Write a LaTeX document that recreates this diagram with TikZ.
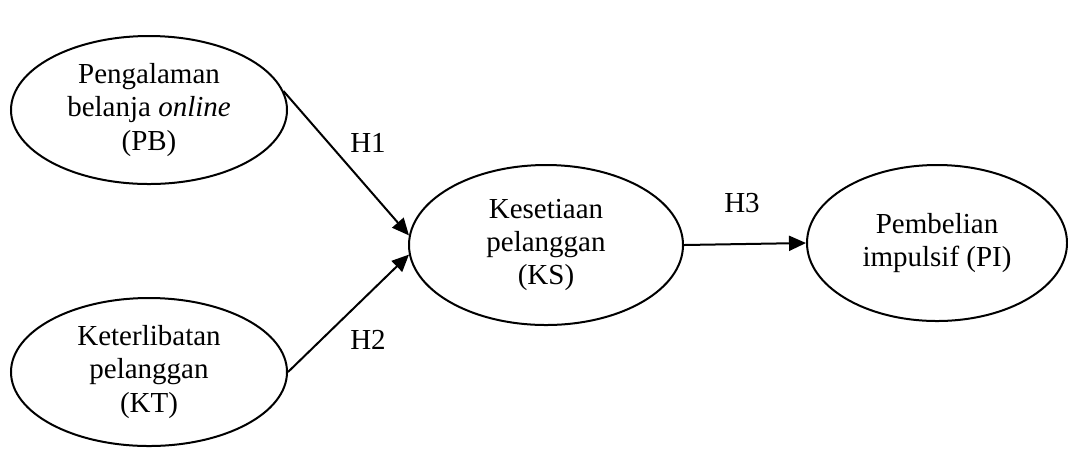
\documentclass[tikz,border=0pt]{standalone}
\usepackage{fontspec}
\setmainfont{Liberation Serif}
\usetikzlibrary{shapes.geometric,arrows.meta}

\begin{document}
\begin{tikzpicture}[
      x = 0.5pt, y = -0.5pt, % one unit is one pixel of the layout
      construct/.style = {ellipse, draw, line width=1pt, inner sep=0pt, align=center,
          font=\fontsize{14.5}{16.7}\selectfont},
      path/.style = {-{Triangle[length=8.5pt, width=7.5pt]}, line width=1pt},
      hyp/.style = {font=\fontsize{14.5}{16.7}\selectfont}
  ]

\useasboundingbox (0,0) rectangle (1068,452);

\node[construct, minimum width=138pt, minimum height=74pt] (PB) at (149,110) {Pengalaman\\belanja \textit{online}\\(PB)};
\node[construct, minimum width=138pt, minimum height=74pt] (KT) at (149,372) {Keterlibatan\\pelanggan\\(KT)};
\node[construct, minimum width=137pt, minimum height=80pt] (KS) at (546,245) {Kesetiaan\\pelanggan\\(KS)};
\node[construct, minimum width=130pt, minimum height=78pt] (PI) at (937,243) {Pembelian\\impulsif (PI)};

% hypothesised paths
\draw[path] (PB.8) -- (KS.176);
\draw[path] (KT.0) -- (KS.184);
\draw[path] (KS.east) -- (PI.west);

\foreach \pos/\name/\txt in {{368,143}/H1a/H1, {368,340}/H2a/H2, {742,203}/H3a/H3}{
    \node[hyp] (\name) at (\pos) {\txt};
}

\end{tikzpicture}
\end{document}
